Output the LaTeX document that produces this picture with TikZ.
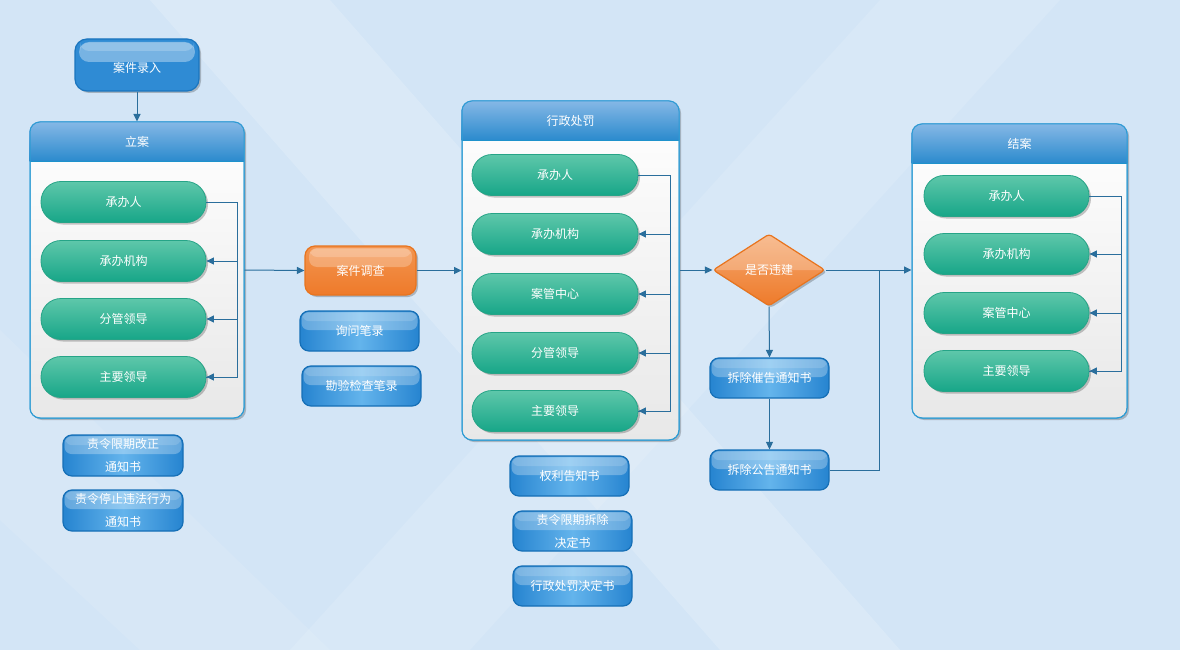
\documentclass[tikz,border=0pt]{standalone}
\usepackage{fontspec}
\newfontfamily\cjk{Noto Sans CJK SC}
\usetikzlibrary{arrows.meta,shapes.geometric,shadows,calc}
\definecolor{bgc}{HTML}{D3E5F6}
\definecolor{lc}{HTML}{2A6E9C}
\definecolor{pilltop}{HTML}{5EC7AA}
\definecolor{pillbot}{HTML}{17A688}
\definecolor{pillbord}{HTML}{26A487}
\definecolor{hdtop}{HTML}{86B8E6}
\definecolor{hdbot}{HTML}{2A8ACD}
\definecolor{hdline}{HTML}{1E92CC}
\definecolor{contbord}{HTML}{2E9CD4}
\definecolor{bluemid}{HTML}{64B4EC}
\definecolor{blueside}{HTML}{2684D0}
\definecolor{bluebord}{HTML}{166FB6}
\definecolor{ortop}{HTML}{F39550}
\definecolor{orbot}{HTML}{EE7A2A}
\definecolor{orbord}{HTML}{E8741E}
\newcommand\mkheader[1]{%
  \begin{scope}
    \clip[rounded corners=10pt] (#1.south west) rectangle (#1.north east);
    \shade[top color=hdtop, bottom color=hdbot] (#1.north west) rectangle ([yshift=-40pt]#1.north east);
  \end{scope}
  \draw[hdline,line width=1.4pt] ([yshift=-40pt,xshift=0.5pt]#1.north west) -- ([yshift=-40pt,xshift=-0.5pt]#1.north east);
  \draw[contbord, line width=1pt, rounded corners=10pt] ([shift={(0.5pt,0.5pt)}]#1.south west) rectangle ([shift={(-0.5pt,-0.5pt)}]#1.north east);
}
\begin{document}
\begin{tikzpicture}[x=1pt,y=-1pt,
  font=\cjk\fontsize{12}{14}\selectfont,
  myshadow/.style={drop shadow={shadow xshift=2pt,shadow yshift=-2pt,opacity=0.22,fill=black}},
  pill/.style={rectangle, rounded corners=20pt, minimum width=165pt, minimum height=41pt,
    draw=pillbord, line width=0.8pt, top color=pilltop, bottom color=pillbot, text=white,
    inner sep=0pt, myshadow},
  bluebox/.style={rectangle, rounded corners=9pt, minimum width=119pt, minimum height=40pt,
    draw=bluebord, line width=1.2pt, left color=blueside, right color=blueside, middle color=bluemid,
    text=white, align=center, inner sep=0pt, font=\cjk\fontsize{12}{23}\selectfont,
    path picture={\fill[white,opacity=0.28,rounded corners=7pt]
      ([xshift=1.5pt,yshift=-1pt]path picture bounding box.north west) rectangle
      ([xshift=-1.5pt,yshift=-19pt]path picture bounding box.north east);
      \fill[white,opacity=0.15,rounded corners=6pt]
      ([xshift=2.5pt,yshift=-1.5pt]path picture bounding box.north west) rectangle
      ([xshift=-2.5pt,yshift=-10pt]path picture bounding box.north east);}},
  orbox/.style={rectangle, rounded corners=10pt, draw=orbord, line width=1.2pt,
    top color=ortop, bottom color=orbot, text=white, inner sep=0pt, myshadow,
    path picture={\fill[white,opacity=0.25,rounded corners=8pt]
      ([xshift=4pt,yshift=-2pt]path picture bounding box.north west) rectangle
      ([xshift=-4pt,yshift=-21pt]path picture bounding box.north east);
      \fill[white,opacity=0.2,rounded corners=7pt]
      ([xshift=5pt,yshift=-2.5pt]path picture bounding box.north west) rectangle
      ([xshift=-5pt,yshift=-11pt]path picture bounding box.north east);}},
  container/.style={rectangle, rounded corners=10pt, draw=contbord, line width=1pt,
    top color=white, bottom color=black!9, myshadow},
  title/.style={text=white},
  ln/.style={draw=lc, line width=1pt},
  arr/.style={draw=lc, line width=1pt, -{Triangle[length=7.5pt,width=7pt]}}
]
\useasboundingbox (0,0) rectangle (1180,650);
\fill[bgc] (0,0) rectangle (1180,650);
\fill[white,opacity=0.18] (150,0) -- (330,0) -- (900,650) -- (720,650) -- cycle;
\fill[white,opacity=0.12] (880,0) -- (1060,0) -- (470,650) -- (290,650) -- cycle;
\fill[white,opacity=0.10] (0,330) -- (0,520) -- (140,650) -- (330,650) -- cycle;

% top entry
\node[rectangle, rounded corners=12pt, minimum width=124pt, minimum height=52pt,
  draw=bluebord!70!blueside, line width=1.2pt, fill=blueside!85!bluemid, text=white,
  inner sep=0pt, myshadow,
  path picture={\fill[white,opacity=0.35,rounded corners=10pt]
      ([xshift=4pt,yshift=-3pt]path picture bounding box.north west) rectangle
      ([xshift=-4pt,yshift=-23pt]path picture bounding box.north east);
      \fill[white,opacity=0.2,rounded corners=9pt]
      ([xshift=5pt,yshift=-3.5pt]path picture bounding box.north west) rectangle
      ([xshift=-5pt,yshift=-12pt]path picture bounding box.north east);}]
  (lr) at (137,65) {\raisebox{-3pt}[\height][\depth]{案件录入}};

% container 立案
\node[container, minimum width=214pt, minimum height=296pt] (lian) at (137,270) {};
\mkheader{lian}
\node[title] (lianT) at (137,142) {立案};
\node[pill] (l1) at (123.5,202) {承办人};
\node[pill] (l2) at (123.5,261) {承办机构};
\node[pill] (l3) at (123.5,319) {分管领导};
\node[pill] (l4) at (123.5,377) {主要领导};
\draw[arr] (lr.south) -- (lian.north);
\draw[ln] (l1.east) -- ++(31,0) coordinate (lb) |- (l4.east);
\draw[arr] (l2.east -| lb) -- (l2.east);
\draw[arr] (l3.east -| lb) -- (l3.east);
\draw[arr] (l4.east -| lb) -- (l4.east);

\node[bluebox, minimum width=120pt, minimum height=41pt] (zlgz) at (123,455.5) {责令限期改正\\通知书};
\node[bluebox, minimum width=120pt, minimum height=41pt] (zltz) at (123,510.5) {责令停止违法行为\\通知书};

% investigation
\node[orbox, minimum width=111pt, minimum height=49pt] (dc) at (360.5,270.5) {案件调查};
\node[bluebox] (xw) at (359.5,331) {询问笔录};
\node[bluebox] (ky) at (361.5,386) {勘验检查笔录};
\draw[arr] (lian.east) -- (dc.west);

% container 行政处罚
\node[container, minimum width=217pt, minimum height=339pt] (xz) at (570.5,270.5) {};
\mkheader{xz}
\node[title] (xzT) at (570.5,121) {行政处罚};
\node[pill, minimum width=166pt] (x1) at (555,175) {承办人};
\node[pill, minimum width=166pt] (x2) at (555,234) {承办机构};
\node[pill, minimum width=166pt] (x3) at (555,294) {案管中心};
\node[pill, minimum width=166pt] (x4) at (555,353) {分管领导};
\node[pill, minimum width=166pt] (x5) at (555,411) {主要领导};
\draw[arr] (dc.east) -- (dc.east -| xz.west);
\draw[ln] (x1.east) -- ++(32,0) coordinate (xb) |- (x5.east);
\draw[arr] (x2.east -| xb) -- (x2.east);
\draw[arr] (x3.east -| xb) -- (x3.east);
\draw[arr] (x4.east -| xb) -- (x4.east);
\draw[arr] (x5.east -| xb) -- (x5.east);

\node[bluebox] (ql) at (569.5,476) {权利告知书};
\node[bluebox] (zc) at (572.5,531) {责令限期拆除\\决定书};
\node[bluebox] (xj) at (572.5,586) {行政处罚决定书};

% decision
\node[diamond, aspect=1.55, minimum width=112pt, minimum height=72pt, inner sep=0pt,
  draw=orbord, line width=1.2pt, top color=ortop!80!white, bottom color=orbot, text=white,
  rounded corners=3pt, myshadow,
  path picture={\fill[white,opacity=0.22]
      (path picture bounding box.north west) rectangle (path picture bounding box.east);}]
  (wj) at (769,270) {是否违建};
\draw[arr] (xz.east |- wj.west) -- (wj.west);
\node[bluebox] (cg) at (769.5,378) {拆除催告通知书};
\node[bluebox] (gg) at (769.5,470) {拆除公告通知书};
\draw[arr] (wj.south) -- (cg.north);
\draw[arr] (cg.south) -- (gg.north);

% container 结案
\node[container, minimum width=215pt, minimum height=294pt] (ja) at (1019.5,271) {};
\mkheader{ja}
\node[title] (jaT) at (1019.5,144) {结案};
\node[pill] (j1) at (1006.5,196) {承办人};
\node[pill] (j2) at (1006.5,254) {承办机构};
\node[pill] (j3) at (1006.5,313) {案管中心};
\node[pill] (j4) at (1006.5,371) {主要领导};
\draw[arr] (wj.east) -- (wj.east -| ja.west);
\coordinate (jn) at (879,270);
\draw[ln] (gg.east) -| (jn);
\draw[ln] (j1.east) -- ++(32,0) coordinate (jb) |- (j4.east);
\draw[arr] (j2.east -| jb) -- (j2.east);
\draw[arr] (j3.east -| jb) -- (j3.east);
\draw[arr] (j4.east -| jb) -- (j4.east);
\end{tikzpicture}
\end{document}
